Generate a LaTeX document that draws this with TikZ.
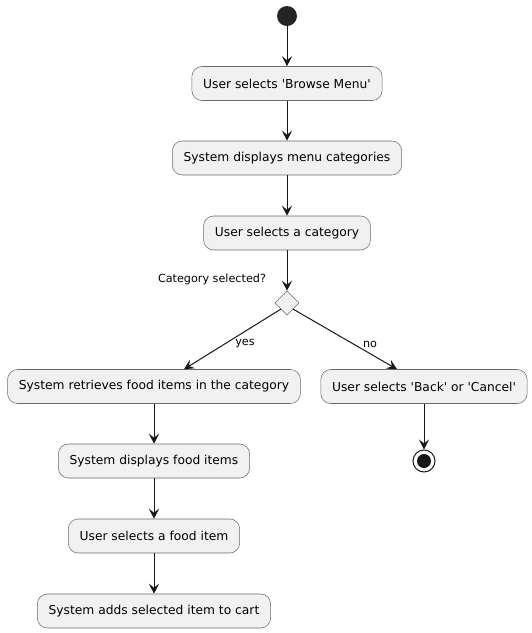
\documentclass[tikz,border=0pt]{standalone}
\usepackage{fontspec}
\setmainfont{DejaVu Sans}
\usetikzlibrary{arrows.meta,shapes.geometric}
\definecolor{actfill}{HTML}{F1F1F1}
\definecolor{actline}{HTML}{181818}
\tikzset{
	act/.style={draw=actline!65,fill=actfill,rounded corners=7.5pt,line width=0.4pt,minimum height=25.5pt,inner xsep=8.5pt,font=\fontsize{9.2}{11}\selectfont},
	arr/.style={draw=actline,line width=0.75pt,-{Stealth[length=7.5pt,width=7.5pt,inset=3pt]}},
	lbl/.style={font=\fontsize{8.4}{10}\selectfont},
}
\begin{document}
\begin{tikzpicture}[x=0.75pt,y=-0.75pt]
		\useasboundingbox (0,0) rectangle (532,633);
		\node [circle,fill=actline!95,minimum size=15pt,inner sep=0pt] (start) at (287,16) {};
		\node [act] (browse) at (287,83.5) {User selects \textquotesingle Browse Menu\textquotesingle};
		\node [act] (cats) at (287,158) {System displays menu categories};
		\node [act] (pick) at (287,233) {User selects a category};
		\node [diamond,draw=actline!65,fill=actfill,line width=0.4pt,minimum width=18pt,minimum height=18pt,inner sep=0pt] (dec) at (287,303) {};
		\node [lbl] (q) at (212,279) {Category selected?};
		\node [act] (fetch) at (154,386.5) {System retrieves food items in the category};
		\node [act] (back) at (424,386.5) {User selects \textquotesingle Back\textquotesingle{} or \textquotesingle Cancel\textquotesingle};
		\node [act] (show) at (154,461) {System displays food items};
		\node [act] (item) at (154,536) {User selects a food item};
		\node [act] (cart) at (154,611) {System adds selected item to cart};
		\node [circle,draw=actline,line width=0.75pt,minimum size=16.5pt,inner sep=0pt] (stop) at (424,461) {};
		\fill [actline] (stop.center) circle (5.25pt);
		\node [lbl] (y) at (245,344) {yes};
		\node [lbl] (n) at (370,344) {no};
		\draw [arr] (start) -- (browse);
		\draw [arr] (browse) -- (cats);
		\draw [arr] (cats) -- (pick);
		\draw [arr] (pick) -- (dec.north);
		\draw [arr] (dec.south west) -- ([xshift=22.5pt]fetch.north);
		\draw [arr] (dec.south east) -- ([xshift=-20.25pt]back.north);
		\draw [arr] (fetch) -- (show);
		\draw [arr] (show) -- (item);
		\draw [arr] (item) -- (cart);
		\draw [arr] (back) -- (stop);
	\end{tikzpicture}
\end{document}
